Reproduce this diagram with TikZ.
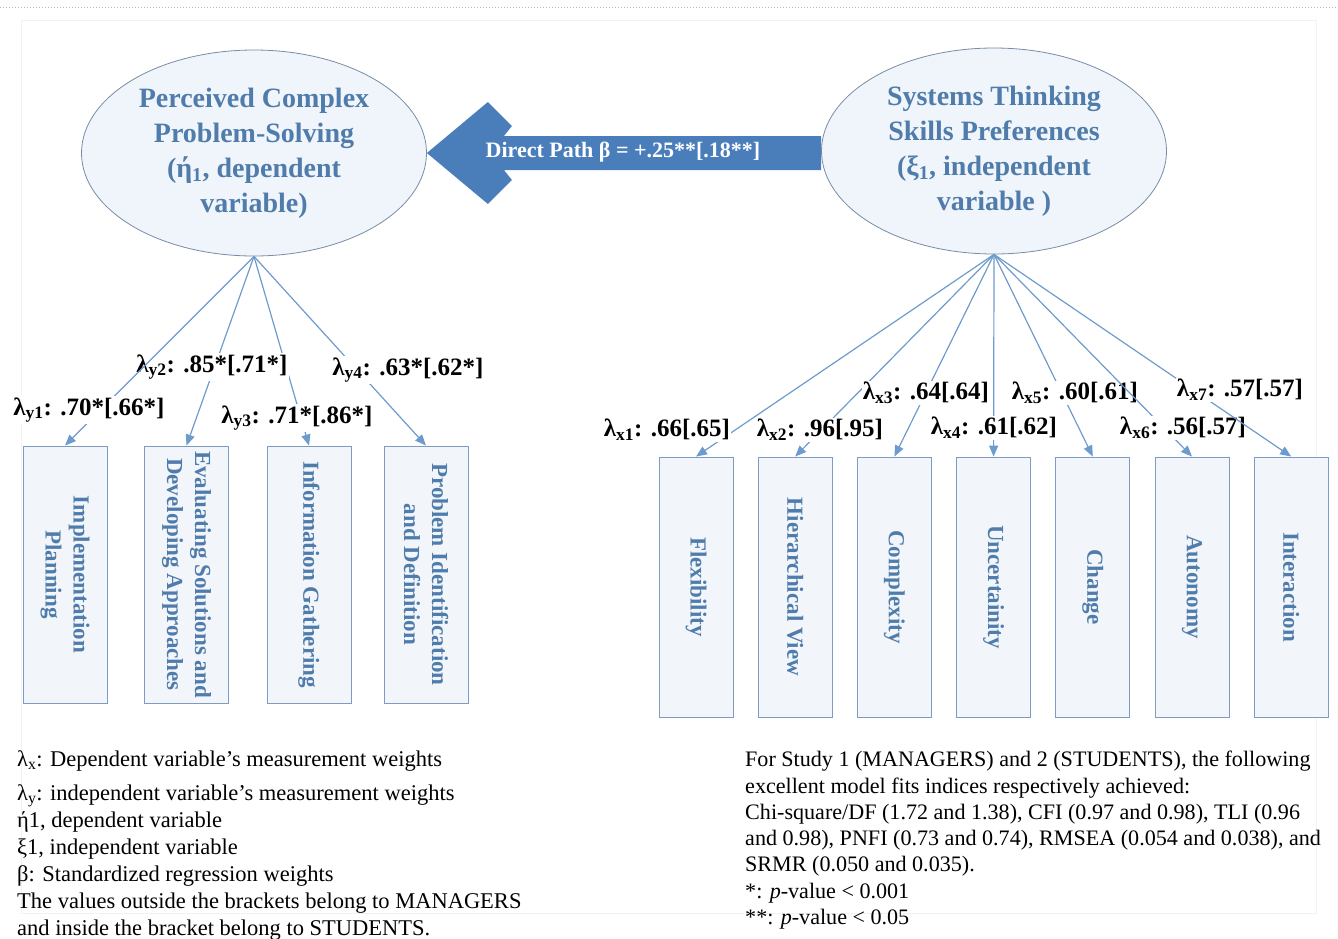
\documentclass[tikz,border=0pt]{standalone}
\usepackage{fontspec}
\setmainfont{Liberation Serif}
\usetikzlibrary{arrows.meta,calc,positioning,shapes.geometric}

\definecolor{latentblue}{RGB}{79,124,170}
\definecolor{ellipseline}{RGB}{120,140,165}
\definecolor{ellipsefill}{RGB}{240,245,251}
\definecolor{boxline}{RGB}{125,155,195}
\definecolor{boxfill}{RGB}{242,246,251}
\definecolor{pathline}{RGB}{110,155,205}
\definecolor{arrowblue}{RGB}{74,126,187}

\begin{document}
\begin{tikzpicture}[x=1pt,y=-1pt,>={Triangle[length=11pt,width=9pt]},
    latent node/.style={ellipse,draw=ellipseline,fill=ellipsefill,line width=0.8pt,inner sep=0pt,minimum width=345pt,minimum height=206pt,align=center,text=latentblue,font=\fontsize{28}{35}\selectfont\bfseries},
    obs node/.style={rectangle,draw=boxline,fill=boxfill,line width=0.9pt,minimum width=74pt,minimum height=260pt},
    obs text/.style={rotate=-90,align=center,text=latentblue,font=\fontsize{23}{28}\selectfont\bfseries},
    load path/.style={->,draw=pathline,line width=1.2pt},
    coef node/.style={fill=white,inner sep=1pt,font=\fontsize{25}{30}\selectfont\bfseries},
    note node/.style={anchor=north west,align=left,inner sep=0pt,font=\fontsize{22.5}{27}\selectfont}]

    \useasboundingbox (0,0) rectangle (1338,938);
    \draw[gray!55,dotted,line width=1pt] (0,7) -- (1338,7);
    \draw[gray!10,line width=0.8pt] (21,20) rectangle (1316,913);

    % latent variables
    \node[latent node] (pcps) at (254,153) {Perceived Complex\\Problem-Solving\\(ή\textsubscript{1}, dependent\\variable)};
    \node[latent node] (stsp) at (994,151) {Systems Thinking\\Skills Preferences\\(ξ\textsubscript{1}, independent\\variable )};

    % direct path
    \fill[arrowblue] (pcps.east) -- ++(61,-51) -- ++(24,24) -- ++(-8,10)
        -- ($(stsp.west)+(0,-15)$) -- ($(stsp.west)+(0,19)$)
        -- ($(pcps.east)+(77,17)$) -- ++(8,10) -- ++(-24,24) -- cycle;
    \node[text=white,font=\fontsize{22}{26}\selectfont\bfseries] (beta) at (623,152) {Direct Path β = +.25**[.18**]};

    % indicators of the dependent variable
    \node[obs node,minimum width=84pt,minimum height=257pt,label={[obs text]center:{Implementation\\Planning}}] (ip) at (65,574.5) {};
    \node[obs node,minimum width=84pt,minimum height=257pt,label={[obs text]center:{Evaluating Solutions and\\Developing Approaches}}] (esda) at (186.5,574.5) {};
    \node[obs node,minimum width=84pt,minimum height=257pt,label={[obs text]center:{Information Gathering}}] (ig) at (309,574.5) {};
    \node[obs node,minimum width=84pt,minimum height=257pt,label={[obs text]center:{Problem Identification\\and Definition}}] (pid) at (426,574.5) {};

    \draw[load path] (pcps.south) -- (ig.north);
    \draw[load path] (pcps.south) -- (esda.north);
    \node[coef node] (ly2) at (212,367) {λ\textsubscript{y2}: .85*[.71*]};
    \draw[load path] (pcps.south) -- (ip.north);
    \node[coef node] (ly1) at (89,410) {λ\textsubscript{y1}: .70*[.66*]};
    \node[coef node] (ly3) at (297,418) {λ\textsubscript{y3}: .71*[.86*]};
    \draw[load path] (pcps.south) -- (pid.north);
    \node[coef node] (ly4) at (408,370) {λ\textsubscript{y4}: .63*[.62*]};

    % indicators of the independent variable
    \foreach \name/\txt [count=\i] in {flex/Flexibility, hier/Hierarchical View, cplx/Complexity, unc/Uncertainity, chg/Change, aut/Autonomy, inter/Interaction}{
        \node[obs node,label={[obs text]center:{\txt}}] (\name) at ({696+99.2*(\i-1)},587) {};
    }

    \foreach \name/\lx/\ly/\val [count=\i] in {flex/667/430/.66[.65], hier/820/430/.96[.95], cplx/926/393/.64[.64], unc/994/428/.61[.62], chg/1075/393/.60[.61], aut/1183/428/.56[.57], inter/1240/390/.57[.57]}{
        \draw[load path] (stsp.south) -- (\name.north);
        \node[coef node] (lx\i) at (\lx,\ly) {λ\textsubscript{x\i}: \val};
    }

    % notes
    \node[note node] (legend) at (17,750) {λ\textsubscript{x}: Dependent variable’s measurement weights\\[7pt]
        λ\textsubscript{y}: independent variable’s measurement weights\\
        ή1, dependent variable\\
        ξ1, independent variable\\
        β: Standardized regression weights\\
        The values outside the brackets belong to MANAGERS\\
        and inside the bracket belong to STUDENTS.};
    \node[note node,font=\fontsize{22.1}{26.3}\selectfont] (fitnote) at (745,751) {For Study 1 (MANAGERS) and 2 (STUDENTS), the following\\
        excellent model fits indices respectively achieved:\\
        Chi-square/DF (1.72 and 1.38), CFI (0.97 and 0.98), TLI (0.96\\
        and 0.98), PNFI (0.73 and 0.74), RMSEA (0.054 and 0.038), and\\
        SRMR (0.050 and 0.035).\\
        *: \textit{p}-value < 0.001\\
        **: \textit{p}-value < 0.05};

\end{tikzpicture}
\end{document}
